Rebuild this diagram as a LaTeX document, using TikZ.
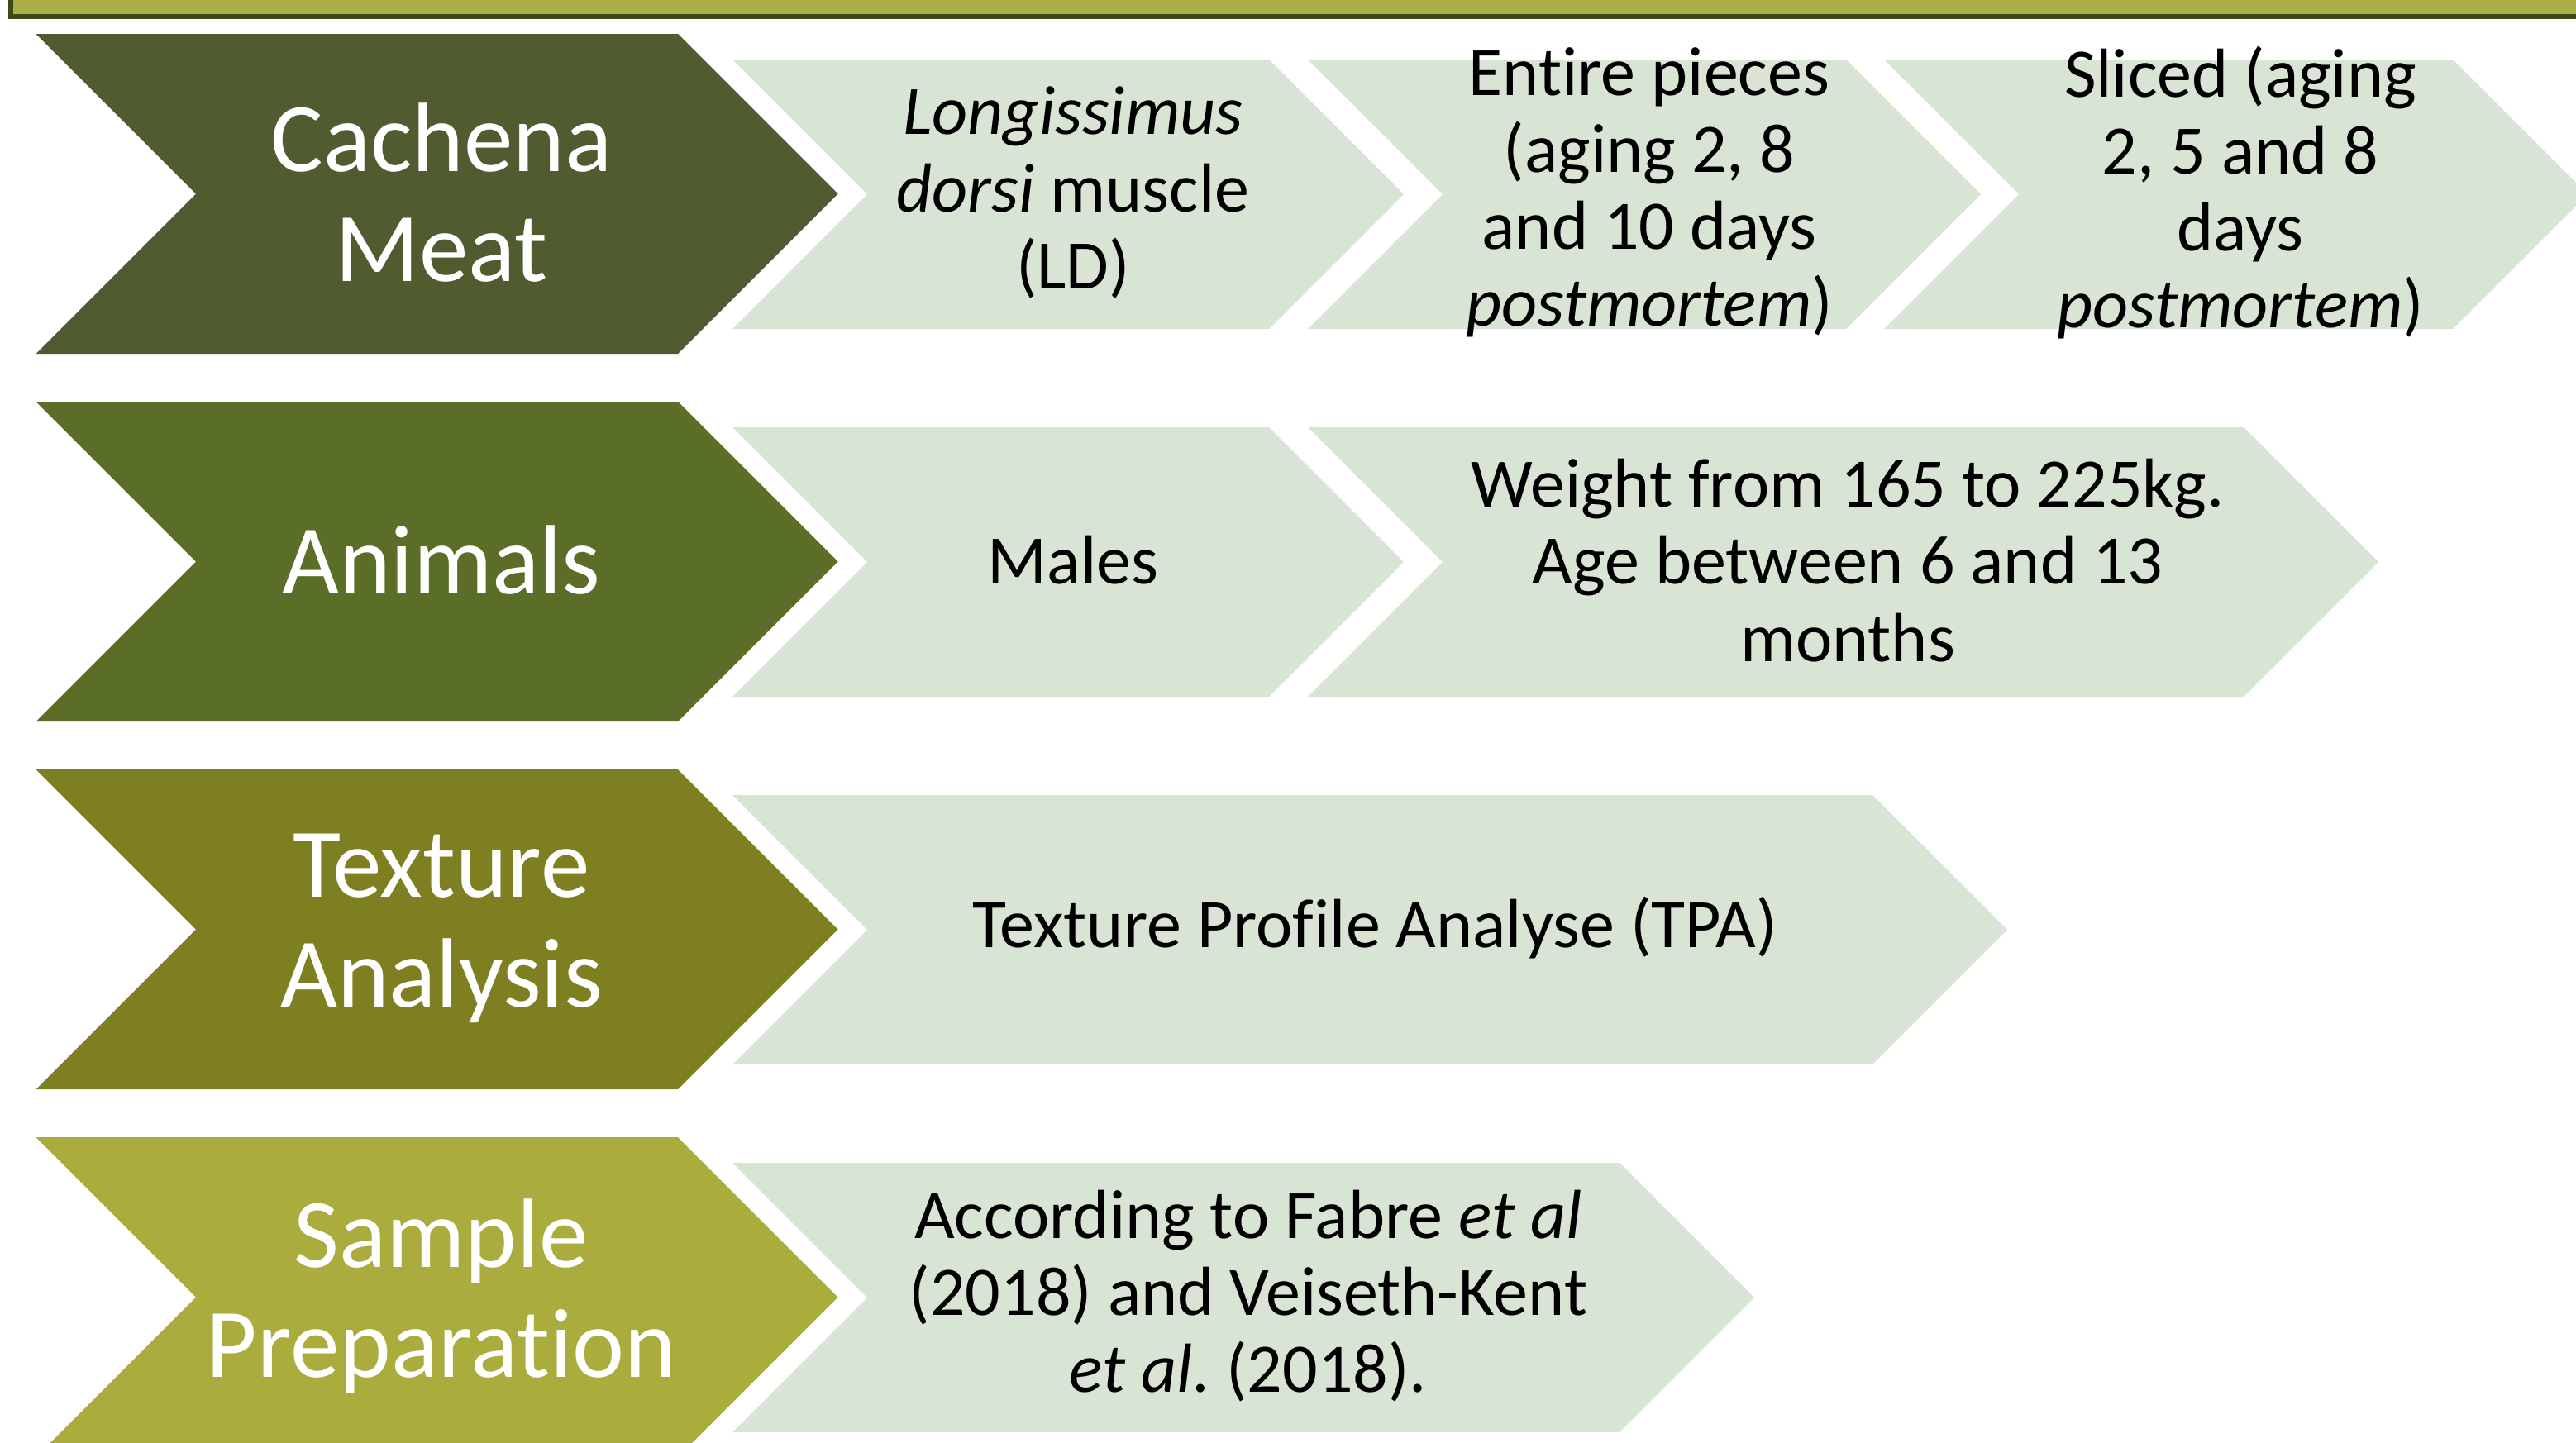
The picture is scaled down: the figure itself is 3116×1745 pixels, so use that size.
\documentclass[tikz,border=0pt]{standalone}
\usepackage{fontspec}
\setmainfont{Carlito}[Ligatures={NoCommon,NoContextual}, Contextuals=NoAlternate]
\usetikzlibrary{positioning}

% chevron: left x, top y, width (to tip), height, fill
\newcommand{\chevbox}[5]{%
  \fill[#5] (#1,#2) -- ({#1+#3-#4/2},#2) -- ({#1+#3},{#2+#4/2}) -- ({#1+#3-#4/2},{#2+#4})
    -- (#1,{#2+#4}) -- ({#1+#4/2},{#2+#4/2}) -- cycle;}
\newcommand{\nl}{\kern0pt }% keeps t and i apart

\begin{document}
\begin{tikzpicture}[x=0.01cm, y=-0.01cm,
  step label/.style={text=white, align=center, inner sep=0pt, font=\fontsize{33.9}{37.8}\selectfont},
  detail/.style={text=black, align=center, inner sep=0pt, font=\fontsize{23.9}{26.5}\selectfont},
]
\definecolor{cMeat}{HTML}{505C2F}
\definecolor{cAnim}{HTML}{5A6E28}
\definecolor{cText}{HTML}{7E7F20}
\definecolor{cSamp}{HTML}{AAAD3E}
\definecolor{cLite}{HTML}{D8E4D4}
\definecolor{cBar}{HTML}{ABAE46}
\definecolor{cBarS}{HTML}{3C4A18}
\useasboundingbox (0,0) rectangle (3116,1745);
\clip (0,0) rectangle (3116,1745);
% top bar
\draw[fill=cBar, draw=cBarS, line width=0.06cm] (13,-30) rectangle (3160,20);
% ---- row 1 ----
\chevbox{43.5}{41}{970}{387}{cMeat}
\chevbox{886}{72}{812}{326}{cLite}
\chevbox{1582}{72}{814}{326}{cLite}
\chevbox{2279}{72}{851}{326}{cLite}
% ---- row 2 ----
\chevbox{43.5}{486}{970}{387}{cAnim}
\chevbox{886}{517}{812}{326}{cLite}
\chevbox{1582}{517}{1295}{326}{cLite}
% ---- row 3 ----
\chevbox{43.5}{931}{970}{387}{cText}
\chevbox{886}{962}{1542}{326}{cLite}
% ---- row 4 ----
\chevbox{43.5}{1376}{970}{387}{cSamp}
\chevbox{886}{1407}{1236}{326}{cLite}
% labels
\node[step label] (meat) at (534,233) {Cachena\\Meat};
\node[detail] (ld) at (1298,233) {\textit{Longissimus}\\\textit{dorsi} muscle\\(LD)};
\node[detail] (entire) at (1995,233) {Ent\nl ire pieces\\(aging 2, 8\\and 10 days\\\textit{postmortem})};
\node[detail] (sliced) at (2710,233) {Sliced (aging\\2, 5 and 8\\days\\\textit{postmortem})};
\node[step label] (animals) at (534,678) {Animals};
\node[detail] (males) at (1298,678) {Males};
\node[detail] (weight) at (2235,678) {Weight from 165 to 225kg.\\Age between 6 and 13\\months};
\node[step label] (texture) at (534,1123) {Texture\\Analysis};
\node[detail] (tpa) at (1663,1123) {Texture Profile Analyse (TPA)};
\node[step label] (sample) at (534,1568) {Sample\\Preparat\nl ion};
\node[detail] (fabre) at (1510,1568) {According to Fabre {\itshape et al}\\(2018) and Veiseth-Kent\\{\itshape et al.}\ (2018).};
\end{tikzpicture}
\end{document}
